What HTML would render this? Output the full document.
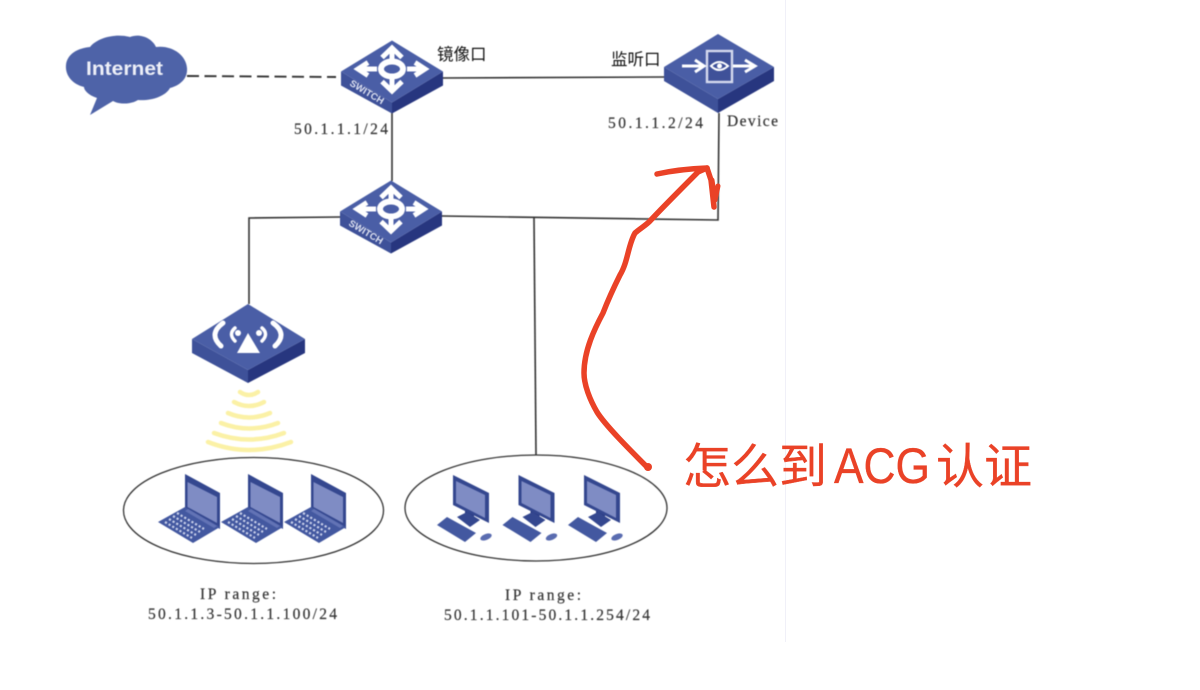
<!DOCTYPE html>
<html>
<head>
<meta charset="utf-8">
<style>
html,body{margin:0;padding:0;background:#fff;width:1200px;height:690px;overflow:hidden}
svg{display:block}
.lab{font-family:"Liberation Serif","Noto Serif CJK SC",serif;font-size:15.5px;fill:#333;stroke:#333;stroke-width:.2px}
.cn{font-family:"Liberation Sans","Noto Sans CJK SC",sans-serif;font-size:16.5px;fill:#111}
.red{font-family:"Liberation Sans","Noto Sans CJK SC",sans-serif;font-size:48px;fill:#ea4227;stroke:#ea4227;stroke-width:.35px}
.sw{font-family:"Liberation Sans",sans-serif;font-weight:bold;font-size:9.5px;fill:#dfe3f2}
</style>
</head>
<body>
<svg width="1200" height="690" viewBox="0 0 1200 690" xmlns="http://www.w3.org/2000/svg">
<defs>
<g id="box">
  <polygon points="-51,0 0,31 0,42 -51,14" fill="#3e5199"/>
  <polygon points="51,0 0,31 0,42 51,14" fill="#27367f"/>
  <polygon points="0,-31 51,0 0,31 -51,0" fill="#4a5ea6"/>
</g>
<g id="arrows" fill="none" stroke="#fff" stroke-linecap="butt" stroke-linejoin="miter">
  <ellipse cx="0" cy="-2.5" rx="11" ry="7.5" stroke-width="6"/>
  <path d="M0,-12 V-22 M-10,-14 L0,-23.5 L10,-14" stroke-width="5"/>
  <path d="M0,7 V17 M-10,10 L0,19.5 L10,10" stroke-width="5"/>
  <path d="M-15,-2.5 H-32 M-24,-9 L-34,-2.5 L-24,4" stroke-width="5"/>
  <path d="M15,-2.5 H31 M23,-9 L33,-2.5 L23,4" stroke-width="5"/>
</g>
<g id="laptop">
  <polygon points="185,474 220,493 220,529 185,509" fill="#34478f"/>
  <polygon points="187.5,482 217,497 217,523 187.5,507" fill="#7f8cc4"/>
  <polygon points="185,507 220,527 193,543 158,522" fill="#4358a0"/>
  <polygon points="188,509 217,526 214,528 185,511" fill="#6273b5"/>
  <g stroke="#c9d0ea" stroke-width="2.2" stroke-dasharray="2.2 2" fill="none">
    <path d="M165,522 L192,538"/><path d="M169,519 L196,535"/><path d="M173,516 L200,532"/><path d="M177,513 L204,529"/>
  </g>
</g>
<g id="pc">
  <polygon points="465,508 474,513 474,520 465,518" fill="#27367f"/>
  <polygon points="457,517 467,512 480,520 470,527" fill="#34478f"/>
  <polygon points="453,475 489,493 489,523 453,505" fill="#34478f"/>
  <polygon points="456,481 485,495 485,518 456,503" fill="#7f8cc4"/>
  <polygon points="437,525 447,517 476,533 465,542" fill="#4358a0"/>
  <ellipse cx="486" cy="537" rx="6" ry="3" transform="rotate(-22 486 537)" fill="#5a6cb0"/>
</g>
</defs>

<line x1="785.5" y1="0" x2="785.5" y2="642" stroke="#f0f0f8" stroke-width="1"/>

<g style="filter:blur(.4px)">
  <!-- connectors -->
  <g fill="none" stroke="#333" stroke-width="1.6">
    <path d="M187,76 L336,77" stroke-dasharray="12 5.5" stroke-width="1.9"/>
    <path d="M442,78 L664,77"/>
    <path d="M392,113 V181"/>
    <path d="M442,216 L718,220 L719,113"/>
    <path d="M340,217 L249,218 V304"/>
    <path d="M534,217 L536,455"/>
  </g>

  <!-- cloud -->
  <path d="M90,115 L97,98 C88,95 84,90 84,87 C72,84 65,75 66,65 C67,54 78,48 90,47 C97,38 115,33 130,37 C140,33 152,38 156,47 C172,45 186,55 187,68 C188,80 178,86 170,88 C165,97 150,101 138,100 C130,105 118,104 113,101 Z" fill="#4e63a8"/>
  <text x="86" y="75" font-family="Liberation Sans,sans-serif" font-weight="bold" font-size="19" fill="#eef0f8" textLength="77" lengthAdjust="spacingAndGlyphs">Internet</text>

  <!-- switch 1 -->
  <g transform="translate(392,71.5)">
    <use href="#box"/><use href="#arrows"/>
    <text class="sw" transform="translate(-43,13.5) rotate(31)" textLength="38" lengthAdjust="spacingAndGlyphs">SWITCH</text>
  </g>
  <!-- switch 2 -->
  <g transform="translate(391,211.5)">
    <use href="#box"/><use href="#arrows"/>
    <text class="sw" transform="translate(-43,13.5) rotate(31)" textLength="38" lengthAdjust="spacingAndGlyphs">SWITCH</text>
  </g>

  <!-- device -->
  <polygon points="664,67 718,99 718,113 664,81" fill="#3e5199"/>
  <polygon points="774,67 718,99 718,113 774,81" fill="#27367f"/>
  <polygon points="718,34 774,67 718,99 664,67" fill="#4a5ea6"/>
  <g fill="none" stroke="#fff" stroke-linecap="butt" stroke-linejoin="miter">
    <rect x="707" y="51" width="25" height="31" fill="#3f5199" stroke="#d5daee" stroke-width="2.4"/>
    <path d="M682,66 H704 M695,60 L704,66 L695,72 M733,66 H753 M745,60 L755,66 L745,72" stroke-width="3"/>
    <path d="M711,66 Q719,58 728,66 Q719,74 711,66 Z" stroke-width="2"/>
    <circle cx="719.5" cy="66" r="2.5" fill="#fff" stroke="none"/>
  </g>

  <!-- AP -->
  <polygon points="192,339 248,370 248,383 192,353" fill="#3e5199"/>
  <polygon points="305,339 248,370 248,383 305,353" fill="#27367f"/>
  <polygon points="248,304 305,339 248,370 192,339" fill="#4a5ea6"/>
  <polygon points="248,333 237,353 260,353" fill="#fff"/>
  <g fill="none" stroke="#fff" stroke-linecap="round">
    <circle cx="238" cy="333" r="3" fill="#fff" stroke="none"/>
    <circle cx="259" cy="333" r="3" fill="#fff" stroke="none"/>
    <path d="M235,328 Q228,334 235,341 M262,328 Q269,334 262,341" stroke-width="3.5"/>
    <path d="M223,323 Q208,334 221,346 M273,323 Q288,334 275,346" stroke-width="5"/>
  </g>

  <!-- wifi arcs -->
  <g fill="none" stroke="#fbf1a6" stroke-width="4.5" stroke-linecap="round">
    <path d="M240,392 Q249,398 258,392"/>
    <path d="M234,402 Q249,410 264,402"/>
    <path d="M228,413 Q249,422 270,413"/>
    <path d="M221,423 Q249,434 278,423"/>
    <path d="M214,433 Q249,446 284,433"/>
    <path d="M208,442 Q249,458 291,442"/>
  </g>

  <!-- ellipses -->
  <ellipse cx="253.5" cy="510.5" rx="130" ry="53" fill="#fff" stroke="#333" stroke-width="1.3"/>
  <ellipse cx="536" cy="508" rx="131" ry="53" fill="#fff" stroke="#333" stroke-width="1.3"/>

  <!-- laptops -->
  <use href="#laptop"/>
  <use href="#laptop" x="63"/>
  <use href="#laptop" x="126"/>

  <!-- PCs -->
  <use href="#pc"/>
  <use href="#pc" x="65.5"/>
  <use href="#pc" x="131"/>

  <!-- labels -->
  <text class="cn" x="437" y="60">镜像口</text>
  <text class="cn" x="611" y="65">监听口</text>
  <text class="lab" x="294" y="134" textLength="94">50.1.1.1/24</text>
  <text class="lab" x="608" y="128" textLength="95">50.1.1.2/24</text>
  <text class="lab" x="727" y="126" textLength="51">Device</text>
  <text class="lab" x="200" y="599" textLength="76">IP range:</text>
  <text class="lab" x="148" y="619" textLength="189">50.1.1.3-50.1.1.100/24</text>
  <text class="lab" x="505" y="600" textLength="76">IP range:</text>
  <text class="lab" x="444" y="620" textLength="206">50.1.1.101-50.1.1.254/24</text>
</g>

<!-- red annotation -->
<g fill="none" stroke="#ea4227" stroke-linecap="round" stroke-linejoin="round">
  <path d="M648,468 C630,450 605,425 597,412 C590,400 584,385 584,373 C584,350 595,328 603,313 C610,295 615,285 620,275 C628,262 628,245 635,233 C642,227 645,226 650,221 C662,208 680,190 698,172 L707,168" stroke-width="5.5"/>
  <path d="M657,174 Q680,169 707,168 L711,180 L714,207" stroke-width="5.5"/>
  <path d="M712,180 L715,200 L718,186" stroke-width="5"/>
</g>
<circle cx="648" cy="467" r="4" fill="#ea4227"/>
<text class="red" x="683" y="483">怎</text>
<text class="red" x="731" y="483">么</text>
<text class="red" x="779" y="483">到</text>
<text class="red" x="834" y="483" style="font-size:50px" textLength="96" lengthAdjust="spacingAndGlyphs">ACG</text>
<text class="red" x="936" y="483">认</text>
<text class="red" x="984" y="483">证</text>
</svg>
</body>
</html>
